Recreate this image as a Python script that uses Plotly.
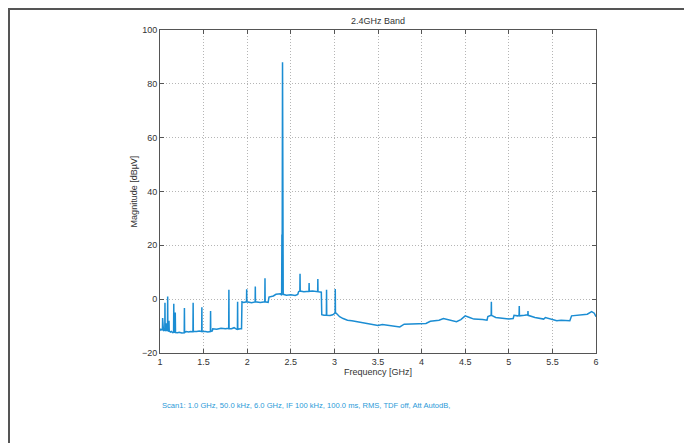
import plotly.graph_objects as go

# Frequency (GHz) and magnitude (dBµV)
freq_ghz = [
    1.000, 1.010, 1.020, 1.028, 1.030, 1.032, 1.040, 1.050, 1.055, 1.057, 1.059,
    1.070, 1.075, 1.078, 1.086, 1.088, 1.090, 1.100, 1.103, 1.106, 1.120, 1.130,
    1.145, 1.156, 1.158, 1.160, 1.172, 1.175, 1.178, 1.200, 1.220, 1.250, 1.278,
    1.280, 1.282, 1.300, 1.330, 1.350, 1.378, 1.380, 1.382, 1.420, 1.450, 1.478,
    1.480, 1.482, 1.520, 1.550, 1.578, 1.580, 1.582, 1.600, 1.605, 1.650, 1.700,
    1.750, 1.788, 1.790, 1.792, 1.820, 1.850, 1.880, 1.888, 1.890, 1.892, 1.920,
    1.935, 1.940, 1.960, 1.992, 1.994, 1.996, 2.050, 2.091, 2.093, 2.095, 2.150,
    2.202, 2.204, 2.206, 2.240, 2.250, 2.300, 2.330, 2.380, 2.395, 2.398, 2.401,
    2.405, 2.409, 2.413, 2.450, 2.500, 2.550, 2.580, 2.590, 2.604, 2.606, 2.608,
    2.650, 2.708, 2.710, 2.712, 2.750, 2.808, 2.810, 2.812, 2.850, 2.855, 2.880,
    2.908, 2.910, 2.912, 2.950, 2.980, 3.008, 3.010, 3.012, 3.030, 3.060, 3.100,
    3.150, 3.200, 3.300, 3.400, 3.500, 3.550, 3.600, 3.700, 3.750, 3.800, 3.900,
    4.000, 4.050, 4.100, 4.200, 4.250, 4.300, 4.400, 4.450, 4.500, 4.550, 4.600,
    4.700, 4.750, 4.760, 4.798, 4.800, 4.802, 4.850, 4.900, 4.950, 5.000, 5.050,
    5.060, 5.100, 5.118, 5.120, 5.122, 5.180, 5.218, 5.220, 5.222, 5.300, 5.400,
    5.420, 5.500, 5.550, 5.600, 5.700, 5.720, 5.800, 5.850, 5.900, 5.950, 5.980,
    6.000,
]
magnitude_dbuv = [
    -11.0, -11.5, -11.2, -11.5, -7.0, -11.4, -11.8, -11.5, -11.6, -1.3, -11.4,
    -11.8, -9.0, -11.7, -11.5, 1.0, -11.6, -12.0, -8.0, -11.9, -12.2, -12.0,
    -12.4, -12.2, -1.7, -12.3, -12.2, -5.0, -12.4, -12.5, -12.3, -12.6, -12.5,
    -3.3, -12.4, -12.0, -12.2, -12.0, -12.1, -1.3, -12.0, -12.0, -11.8, -12.0,
    -3.0, -11.9, -12.0, -12.2, -12.0, -4.4, -12.0, -11.8, -11.0, -11.2, -10.8,
    -11.0, -10.8, 3.5, -11.0, -11.0, -10.6, -11.2, -11.2, -1.0, -11.2, -11.0,
    -11.0, -1.0, -1.2, -1.0, 3.7, -1.0, -1.3, -1.0, 4.7, -1.0, -1.2,
    -1.0, 7.8, -1.0, -1.2, 0.8, 1.2, 1.8, 2.0, 1.5, 24.0, 13.0,
    88.0, 22.0, 1.8, 1.5, 1.6, 1.4, 1.8, 2.8, 3.0, 9.4, 3.0,
    2.8, 2.9, 6.0, 2.9, 3.0, 2.8, 7.5, 2.8, 2.6, -5.8, -6.0,
    -6.0, 3.5, -6.0, -6.1, -5.8, -5.2, 3.8, -5.0, -5.5, -6.5, -7.2,
    -7.8, -8.0, -8.6, -9.0, -9.8, -9.4, -9.6, -10.0, -10.3, -9.3, -9.2,
    -9.2, -9.0, -8.2, -7.8, -7.2, -7.6, -8.4, -7.6, -6.2, -6.8, -7.4,
    -7.6, -7.8, -6.5, -6.0, -1.0, -6.0, -6.8, -7.0, -7.2, -7.4, -7.2,
    -6.0, -6.2, -6.0, -2.5, -6.2, -6.0, -5.8, -4.4, -6.0, -6.8, -7.4,
    -6.8, -7.6, -8.0, -7.8, -8.0, -6.2, -6.0, -5.8, -5.6, -4.6, -5.2,
    -6.5,
]

x_ticks = [1, 1.5, 2, 2.5, 3, 3.5, 4, 4.5, 5, 5.5, 6]
y_ticks = [-20, 0, 20, 40, 60, 80, 100]

title_text = "2.4GHz Band"
x_title = "Frequency [GHz]"
y_title = "Magnitude [dBµV]"
scan_text = "Scan1: 1.0 GHz, 50.0 kHz, 6.0 GHz, IF 100 kHz, 100.0 ms, RMS, TDF off, Att AutodB,"

FONT = "Liberation Sans, Arial, sans-serif"
OFF = 8  # page body margin
W, H = 692, 443
L, T = 160 - OFF, 30 - OFF
R, B = W - (596 - OFF), H - (353 - OFF)
pw, ph = W - L - R, H - T - B

fig = go.Figure()
fig.add_trace(go.Scatter(
    x=freq_ghz, y=magnitude_dbuv, mode="lines",
    line=dict(color="#1b8dd3", width=1.5),
    showlegend=False, hoverinfo="skip",
))

axis_common = dict(
    showline=True, linecolor="#555", linewidth=1, mirror="ticks",
    ticks="inside", ticklen=4, tickcolor="#555",
    showgrid=True, gridcolor="#b5b5b5", griddash="1px,2px", gridwidth=1,
    zeroline=False,
    tickfont=dict(family=FONT, size=9, color="#333"),
)

fig.update_xaxes(range=[1, 6], tickvals=x_ticks,
                 ticktext=[f"{v:g}" for v in x_ticks],
                 title=dict(text=x_title, font=dict(family=FONT, size=9, color="#333"), standoff=2),
                 **axis_common)
fig.update_yaxes(range=[-20, 100], tickvals=y_ticks,
                 title=dict(text=y_title, font=dict(family=FONT, size=9, color="#333"), standoff=2),
                 **axis_common)

def px_x(p):
    return (p - OFF - L) / pw

def px_y(p):
    return (H - B - (p - OFF)) / ph

fig.update_layout(
    width=W, height=H,
    margin=dict(l=L, r=R, t=T, b=B, autoexpand=False),
    paper_bgcolor="white", plot_bgcolor="white",
    font=dict(family=FONT, size=9, color="#333"),
    title=dict(text=title_text, x=0.5, xref="paper", y=1, yref="paper",
               yanchor="bottom", pad=dict(b=6),
               font=dict(family=FONT, size=9, color="#333")),
    annotations=[dict(text=scan_text, xref="paper", yref="paper",
                      x=px_x(160), y=px_y(405), xanchor="left", yanchor="middle",
                      showarrow=False,
                      font=dict(family=FONT, size=7.6, color="#2a9ad8"))],
    shapes=[
        dict(type="line", xref="paper", yref="paper",
             x0=px_x(OFF), x1=px_x(W + OFF), y0=px_y(OFF + 1), y1=px_y(OFF + 1),
             line=dict(color="#555", width=2)),
        dict(type="line", xref="paper", yref="paper",
             x0=px_x(OFF + 1), x1=px_x(OFF + 1), y0=px_y(OFF), y1=px_y(H + OFF),
             line=dict(color="#555", width=2)),
    ],
)

fig.write_html("out.html")
